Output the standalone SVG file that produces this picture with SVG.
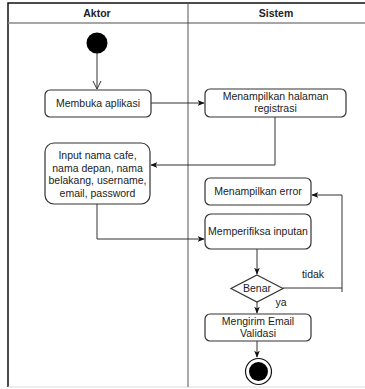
<svg xmlns="http://www.w3.org/2000/svg" width="365" height="389" viewBox="0 0 365 389">
  <defs>
    <style>
      text { font-family: "Liberation Sans", Arial, sans-serif; font-size: 10.5px; fill: #222; text-anchor: middle; }
      .head { font-weight: bold; }
      .box { fill: #fff; stroke: #333; stroke-width: 1.2; }
      .edge { fill: none; stroke: #333; stroke-width: 1; }
      .frame { fill: none; stroke: #111; stroke-width: 1.5; }
    </style>
    <marker id="arrow" viewBox="0 0 10 10" refX="9" refY="5" markerWidth="7" markerHeight="7" orient="auto" markerUnits="userSpaceOnUse">
      <path d="M0,1 L10,5 L0,9 L2.5,5 Z" fill="#111"/>
    </marker>
    <marker id="open" viewBox="0 0 10 10" refX="9" refY="5" markerWidth="10" markerHeight="10" orient="auto" markerUnits="userSpaceOnUse">
      <path d="M1,1 L9,5 L1,9" fill="none" stroke="#333" stroke-width="1"/>
    </marker>
  </defs>

  <rect width="365" height="389" fill="#fff"/>

  <!-- swimlane frame -->
  <g id="lanes">
    <path class="frame" d="M372,3 H8 V387"/>
    <line x1="8" y1="387" x2="372" y2="387" stroke="#ddd" stroke-width="1"/>
    <line x1="8" y1="23" x2="372" y2="23" stroke="#888" stroke-width="1.5"/>
    <line x1="188" y1="3" x2="188" y2="387" stroke="#555" stroke-width="1"/>
    <text class="head" x="97" y="17">Aktor</text>
    <text class="head" x="276" y="17">Sistem</text>
  </g>

  <!-- connectors -->
  <g id="connectors">
    <line class="edge" x1="97" y1="53" x2="97" y2="89" marker-end="url(#open)"/>
    <line class="edge" x1="151" y1="103" x2="204" y2="103" marker-end="url(#arrow)"/>
    <polyline class="edge" points="275,117 275,165 151,165" marker-end="url(#arrow)"/>
    <polyline class="edge" points="97,204 97,239 204,239" marker-end="url(#arrow)"/>
    <line class="edge" x1="257" y1="249" x2="257" y2="274" marker-end="url(#arrow)"/>
    <polyline class="edge" points="283,288 342,288 342,195 312,195" marker-end="url(#arrow)"/>
    <line class="edge" x1="342" y1="288" x2="342" y2="292"/>
    <line class="edge" x1="257" y1="302" x2="257" y2="313" marker-end="url(#arrow)"/>
    <line class="edge" x1="257" y1="341" x2="257" y2="357" marker-end="url(#arrow)"/>
    <text x="313" y="278">tidak</text>
    <text x="281" y="306">ya</text>
  </g>

  <g id="start">
    <circle cx="97" cy="43" r="10.5" fill="#000"/>
  </g>

  <g id="membuka">
    <rect class="box" x="45" y="90" width="106" height="27" rx="5"/>
    <text x="98" y="107">Membuka aplikasi</text>
  </g>

  <g id="halaman">
    <rect class="box" x="205" y="89" width="141" height="28" rx="5"/>
    <text x="275.5" y="100">Menampilkan halaman</text>
    <text x="275.5" y="112">registrasi</text>
  </g>

  <g id="input">
    <rect class="box" x="45" y="143" width="105" height="61" rx="9"/>
    <text x="97.5" y="159">Input nama cafe,</text>
    <text x="97.5" y="171.5">nama depan, nama</text>
    <text x="97.5" y="184">belakang, username,</text>
    <text x="97.5" y="196.5">email, password</text>
  </g>

  <g id="error">
    <rect class="box" x="205" y="178" width="106" height="27" rx="5"/>
    <text x="258" y="195">Menampilkan error</text>
  </g>

  <g id="periksa">
    <rect class="box" x="205" y="214" width="106" height="35" rx="6"/>
    <text x="258" y="235">Memperifiksa inputan</text>
  </g>

  <g id="benar">
    <polygon class="box" points="257,275 283,288.5 257,302 231,288.5"/>
    <text x="257" y="292">Benar</text>
  </g>

  <g id="kirim">
    <rect class="box" x="205" y="314" width="106" height="27" rx="5"/>
    <text x="258" y="325">Mengirim Email</text>
    <text x="258" y="337">Validasi</text>
  </g>

  <g id="end">
    <circle cx="258.5" cy="371.5" r="13" fill="#fff" stroke="#111" stroke-width="1.2"/>
    <circle cx="258.5" cy="371.5" r="9.5" fill="#000"/>
  </g>
</svg>
